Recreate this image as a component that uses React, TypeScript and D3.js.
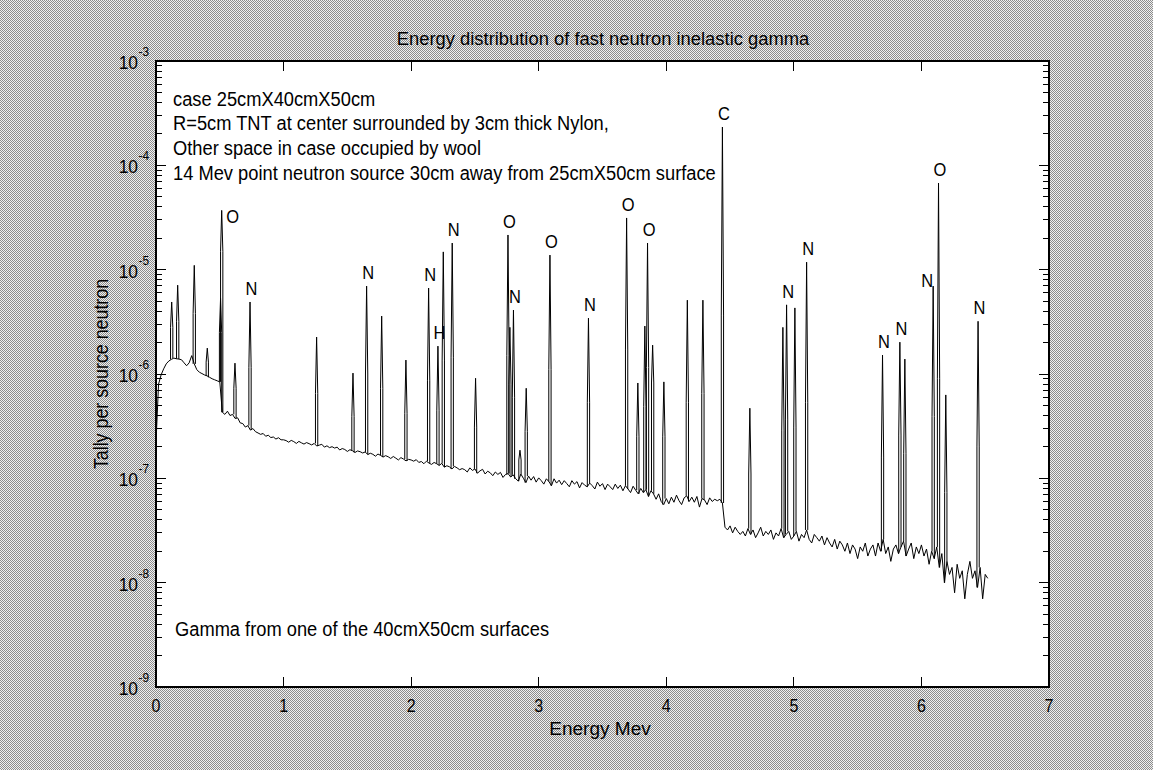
import React from "react";
import * as d3 from "d3";

// ---------------------------------------------------------------------------
// Data
// ---------------------------------------------------------------------------

// Continuum tally per source neutron, in units of 1e-8, on a 0.02 MeV grid
// starting at 0 MeV (one row of ten bins = 0.2 MeV).
const E_STEP = 0.02;
const continuumE8: number[] = [
  22, 80, 98, 112, 125, 133, 138, 142, 140, 139,
  137, 128, 120, 128, 150, 125, 110, 104, 101, 98,
  96, 93, 90, 88, 86, 84, 43, 41, 44, 40,
  41, 37.5, 38, 34, 33.5, 31, 32, 29, 30, 28,
  27.2, 26.4, 26.9, 25.3, 25.9, 24.6, 24.9, 23.8, 24.5, 23.4,
  23.4, 23.0, 22.2, 23.1, 22.5, 21.6, 22.6, 21.9, 21.3, 22.0,
  21.5, 20.9, 21.6, 20.4, 20.8, 21.2, 19.9, 20.5, 19.7, 20.1,
  19.5, 19.9, 18.7, 19.3, 18.9, 18.1, 18.8, 18.4, 17.7, 18.3,
  18.0, 17.5, 17.9, 16.9, 17.4, 17.0, 16.3, 17.1, 16.6, 16.0,
  16.5, 16.1, 15.5, 16.2, 15.6, 15.0, 15.8, 15.3, 14.7, 15.2,
  15.0, 14.6, 15.1, 14.2, 14.5, 13.8, 14.6, 14.0, 13.6, 14.2,
  13.8, 13.3, 13.9, 12.8, 13.2, 12.9, 12.3, 13.0, 12.6, 12.1,
  12.4, 12.1, 11.5, 12.6, 11.9, 12.3, 11.2, 11.8, 12.2, 11.0,
  11.7, 11.3, 10.6, 11.5, 10.9, 11.4, 10.2, 10.9, 11.1, 10.3,
  10.8, 9.9, 9.4, 11.0, 10.0, 9.1, 10.5, 9.6, 10.4, 9.2,
  10.1, 9.5, 8.8, 9.9, 9.3, 8.5, 9.9, 9.0, 9.6, 8.7,
  9.5, 8.9, 8.3, 9.5, 8.8, 9.3, 8.1, 9.1, 8.6, 8.3,
  9.0, 8.5, 7.9, 9.2, 8.4, 8.9, 7.8, 8.8, 8.3, 7.8,
  8.8, 8.0, 8.6, 7.6, 8.5, 7.9, 7.3, 8.4, 7.7, 7.1,
  8.0, 7.3, 7.8, 6.7, 7.6, 7.1, 6.3, 7.1, 6.0, 5.6,
  6.4, 5.7, 6.6, 5.9, 6.9, 6.1, 5.6, 6.5, 6.8, 6,
  6.6, 5.9, 6.7, 5.3, 6.4, 6.2, 5.6, 6.5, 6, 6.3,
  6.1, 6.3, 5.8, 3.4, 3.2, 3.5, 3.0, 3.4, 3.1, 2.9,
  3.1, 2.8, 3.3, 2.9, 3.2, 2.7, 3.0, 3.4, 2.8, 3.1,
  2.9, 3.2, 2.6, 3.0, 2.8, 3.3, 2.7, 2.9, 3.1, 2.6,
  2.8, 3.1, 2.5, 2.9, 2.7, 3.2, 2.6, 2.4, 2.9, 2.7,
  2.5, 2.8, 2.3, 2.7, 2.4, 2.2, 2.6, 2.1, 2.5, 2.3,
  2.0, 2.4, 1.9, 2.3, 2.1, 1.7, 2.2, 2.0, 2.4, 1.8,
  2.1, 2.3, 1.8, 2.4, 2.0, 2.6, 1.9, 2.2, 1.6, 2.1,
  2.3, 1.9, 2.2, 2.5, 1.8, 2.1, 2.4, 1.7, 2.2, 1.9,
  2.3, 1.8, 2.1, 1.5, 2.0, 1.7, 2.2, 1.4, 1.9, 1.0,
  1.6, 1.2, 1.4, 0.8, 1.5, 1.1, 1.3, 0.7, 1.2, 1.6,
  1.1, 1.3, 0.9, 1.4, 0.7, 1.2, 1.1,
];

// Gamma lines: energy (MeV), peak tally, tally of the neighbouring bins,
// and the element that emits the line.
const peakEnergy: number[] = [
  0.123, 0.17, 0.3, 0.402, 0.506, 0.515, 0.619, 0.737, 1.259, 1.544,
  1.651, 1.769, 1.959, 2.137, 2.21, 2.252, 2.322, 2.505, 2.759, 2.774,
  2.802, 2.853, 2.902, 3.088, 3.39, 3.689, 3.777, 3.832, 3.853, 3.893,
  3.981, 4.165, 4.287, 4.44, 4.655, 4.914, 4.943, 5.008, 5.1, 5.695,
  5.831, 5.87, 6.092, 6.134, 6.191, 6.444,
];
const peakTally: number[] = [
  4.9e-6, 7.1e-6, 1.1e-5, 1.77e-6, 5.3e-6, 3.7e-5, 1.27e-6, 4.9e-6, 2.26e-6, 1.02e-6,
  6.96e-6, 3.59e-6, 1.36e-6, 6.67e-6, 1.85e-6, 1.48e-5, 1.8e-5, 9.1e-7, 2.15e-5, 2.8e-6,
  4.1e-6, 1.86e-7, 7.3e-7, 1.38e-5, 3.43e-6, 3.13e-5, 8.2e-7, 2.88e-6, 1.8e-5, 1.89e-6,
  8.4e-7, 5.1e-6, 5.1e-6, 2.33e-4, 4.7e-7, 2.8e-6, 4.6e-6, 4.3e-6, 1.18e-5, 1.52e-6,
  2.02e-6, 1.39e-6, 6.96e-6, 6.76e-5, 6.3e-7, 3.2e-6,
];
const peakShoulder: number[] = [
  2.8e-6, 3.2e-6, 3.8e-6, 1.3e-6, 2.5e-6, 1.5e-5, 7.3e-7, 1.15e-6, 6.5e-7, 3.9e-7,
  1.0e-6, 7.3e-7, 4.2e-7, 8.6e-7, 4.5e-7, 1.36e-6, 1.45e-6, 3.1e-7, 1.5e-6, 8e-7,
  6e-7, 1.5e-7, 2.8e-7, 1.1e-6, 5.3e-7, 1.7e-6, 2.5e-7, 4.9e-7, 1.15e-6, 8.2e-7,
  2.5e-7, 5.3e-7, 6.5e-7, 3.6e-6, 1.1e-7, 2.9e-7, 3.7e-7, 3.1e-7, 5.3e-7, 1.6e-7,
  2.6e-7, 1.74e-7, 3.9e-7, 9.0e-7, 7.3e-8, 2.0e-7,
];
const peakElement: string[] = [
  "", "", "", "", "", "O", "", "N", "", "",
  "N", "", "", "N", "H", "", "N", "", "O", "",
  "N", "", "", "O", "N", "O", "", "", "O", "",
  "", "", "", "C", "", "", "N", "", "N", "N",
  "N", "", "N", "O", "", "N",
];

const xTickValues: number[] = [0, 1, 2, 3, 4, 5, 6, 7];
const yDecades: number[] = [-3, -4, -5, -6, -7, -8, -9];

const titleText = "Energy distribution of fast neutron inelastic gamma";
const xAxisTitle = "Energy Mev";
const yAxisTitle = "Tally per source neutron";
const setupNotes: string[] = [
  "case 25cmX40cmX50cm",
  "R=5cm TNT at center surrounded by 3cm thick Nylon,",
  "Other space in case occupied by wool",
  "14 Mev point neutron source 30cm away from 25cmX50cm surface",
];
const footNote = "Gamma from one of the 40cmX50cm surfaces";

// ---------------------------------------------------------------------------
// Layout
// ---------------------------------------------------------------------------

const W = 1153;
const H = 770;
const PLOT = { left: 156, right: 1049, top: 61, bottom: 687 };
const FONT = "'Liberation Sans', Arial, Helvetica, sans-serif";
const SQUEEZE = 0.915; // horizontal glyph scale of every text run

type TxtProps = {
  x: number;
  y: number;
  size: number;
  anchor?: "start" | "middle" | "end";
  rotate?: number;
  sx?: number;
  children: React.ReactNode;
};

function Txt({ x, y, size, anchor = "start", rotate = 0, sx = SQUEEZE, children }: TxtProps) {
  return (
    <text
      transform={`translate(${x},${y}) rotate(${rotate}) scale(${sx},1)`}
      fontSize={size}
      fontFamily={FONT}
      textAnchor={anchor}
      fill="#000"
    >
      {children}
    </text>
  );
}

// label placement tweaks for crowded lines (energy -> offsets in px)
const labelNudge: Record<string, { dx: number; dy: number }> = {
  "0.515": { dx: 11, dy: 13 },
  "6.092": { dx: -6, dy: 1 },
};

export default function App() {
  const x = d3.scaleLinear().domain([0, 7]).range([PLOT.left, PLOT.right]);
  const y = d3.scaleLog().domain([1e-9, 1e-3]).range([PLOT.bottom, PLOT.top]);

  const continuum: [number, number][] = continuumE8.map((v, i) => [i * E_STEP, v * 1e-8]);
  const line = d3
    .line<[number, number]>()
    .x((d) => x(d[0]))
    .y((d) => y(d[1]));

  // each line is drawn as a narrow histogram spike: neighbouring bins, then the peak bin
  const halfWidth = 0.009;
  const peakPaths = peakEnergy.map((e, i) => {
    const lo = Math.floor(e / E_STEP + 1e-9);
    const hi = Math.min(continuum.length - 1, Math.ceil(e / E_STEP - 1e-9));
    const baseL = continuum[lo][1];
    const baseR = continuum[hi][1];
    const pts: [number, number][] = [
      [e - halfWidth, baseL],
      [e - halfWidth, Math.max(peakShoulder[i], baseL)],
      [e, peakTally[i]],
      [e + halfWidth, Math.max(peakShoulder[i], baseR)],
      [e + halfWidth, baseR],
    ];
    return line(pts) as string;
  });

  const minorTicks: number[] = [];
  for (let d = -9; d < -3; d++) {
    for (let k = 2; k <= 9; k++) minorTicks.push(k * Math.pow(10, d));
  }

  const plotW = PLOT.right - PLOT.left;
  const plotH = PLOT.bottom - PLOT.top;

  return (
    <svg
      width={W}
      height={H}
      viewBox={`0 0 ${W} ${H}`}
      style={{ position: "absolute", left: 0, top: 0, display: "block" }}
    >
      <defs>
        <pattern id="dither" width={2} height={2} patternUnits="userSpaceOnUse">
          <rect width={2} height={2} fill="#f0f0f0" />
          <rect x={0} y={0} width={1} height={1} fill="#8c8c8c" />
          <rect x={1} y={1} width={1} height={1} fill="#8c8c8c" />
        </pattern>
        <clipPath id="plotClip">
          <rect x={PLOT.left} y={PLOT.top} width={plotW} height={plotH} />
        </clipPath>
      </defs>

      <rect x={0} y={0} width={W} height={H} fill="url(#dither)" shapeRendering="crispEdges" />
      <rect x={PLOT.left} y={PLOT.top} width={plotW} height={plotH} fill="#fff" />

      {/* spectrum */}
      <g clipPath="url(#plotClip)" fill="none" stroke="#000" strokeWidth={1}>
        <path d={line(continuum) as string} strokeLinejoin="round" />
        {peakPaths.map((d, i) => (
          <path key={i} d={d} />
        ))}
      </g>

      {/* element labels */}
      {peakEnergy.map((e, i) => {
        const el = peakElement[i];
        if (!el) return null;
        const nudge = labelNudge[String(e)] ?? { dx: 1.5, dy: -7 };
        return (
          <Txt key={i} x={x(e) + nudge.dx} y={y(peakTally[i]) + nudge.dy} size={18} anchor="middle">
            {el}
          </Txt>
        );
      })}

      {/* ticks */}
      <g stroke="#000" strokeWidth={1} shapeRendering="crispEdges">
        {xTickValues.map((t) => (
          <g key={t}>
            <line x1={x(t)} x2={x(t)} y1={PLOT.bottom} y2={PLOT.bottom - 10} />
            <line x1={x(t)} x2={x(t)} y1={PLOT.top} y2={PLOT.top + 10} />
          </g>
        ))}
        {yDecades.map((d) => (
          <g key={d}>
            <line x1={PLOT.left} x2={PLOT.left + 10} y1={y(Math.pow(10, d))} y2={y(Math.pow(10, d))} />
            <line x1={PLOT.right} x2={PLOT.right - 10} y1={y(Math.pow(10, d))} y2={y(Math.pow(10, d))} />
          </g>
        ))}
        {minorTicks.map((v, i) => (
          <g key={i}>
            <line x1={PLOT.left} x2={PLOT.left + 6} y1={y(v)} y2={y(v)} />
            <line x1={PLOT.right} x2={PLOT.right - 6} y1={y(v)} y2={y(v)} />
          </g>
        ))}
      </g>

      {/* frame */}
      <rect
        x={PLOT.left}
        y={PLOT.top}
        width={plotW}
        height={plotH}
        fill="none"
        stroke="#000"
        strokeWidth={2}
      />

      {/* tick labels */}
      {xTickValues.map((t) => (
        <Txt key={t} x={x(t)} y={PLOT.bottom + 25} size={17.5} anchor="middle">
          {String(t)}
        </Txt>
      ))}
      {yDecades.map((d) => (
        <g key={d}>
          <Txt x={138} y={y(Math.pow(10, d)) + 8} size={19} anchor="end">
            10
          </Txt>
          <Txt x={138.5} y={y(Math.pow(10, d)) - 5} size={13}>
            {String(d)}
          </Txt>
        </g>
      ))}

      {/* titles */}
      <Txt x={603} y={45} size={17.5} sx={1.05} anchor="middle">
        {titleText}
      </Txt>
      <Txt x={600} y={735} size={18.5} sx={1.03} anchor="middle">
        {xAxisTitle}
      </Txt>
      <Txt x={108} y={374} size={19.5} anchor="middle" rotate={-90}>
        {yAxisTitle}
      </Txt>

      {/* notes */}
      {setupNotes.map((s, i) => (
        <Txt key={i} x={173} y={105.5 + i * 24.8} size={20}>
          {s}
        </Txt>
      ))}
      <Txt x={175} y={636} size={20}>
        {footNote}
      </Txt>
    </svg>
  );
}
